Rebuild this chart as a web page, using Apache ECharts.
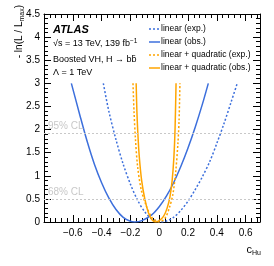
<!DOCTYPE html>
<html><head><meta charset="utf-8">
<script src="https://cdn.jsdelivr.net/npm/echarts@6/dist/echarts.min.js"></script>
<style>html,body{margin:0;padding:0;background:#fff}#c{width:274px;height:266px}</style>
</head><body><div id="c"></div>
<script>
// ---- data ----
const seriesNames = ['linear (exp.)','linear (obs.)','linear + quadratic (exp.)','linear + quadratic (obs.)'];
const linExpX = [-0.388,-0.35,-0.3,-0.25,-0.2,-0.15,-0.1,-0.05,0.01,0.05,0.1,0.15,0.2,0.25,0.3,0.35,0.4,0.45,0.5,0.542];
const linExpY = [3.0,2.4,1.78,1.25,0.82,0.47,0.22,0.065,0,0.02,0.1,0.25,0.45,0.7,0.98,1.3,1.7,2.13,2.6,3.0];
const linObsX = [-0.61,-0.55,-0.5,-0.45,-0.4,-0.35,-0.3,-0.25,-0.2,-0.17,-0.12,-0.05,0,0.05,0.1,0.15,0.2,0.25,0.3,0.341];
const linObsY = [3.0,2.3,1.74,1.25,0.85,0.52,0.27,0.10,0.015,0,0.03,0.16,0.33,0.56,0.85,1.2,1.6,2.05,2.55,3.0];
const quadExpX = [-0.182,-0.175,-0.165,-0.15,-0.125,-0.09,-0.05,0,0.04,0.07,0.095,0.115,0.13,0.138,0.144];
const quadExpY = [3.0,2.4,1.8,1.2,0.7,0.35,0.1,0,0.08,0.3,0.6,1.1,1.7,2.2,3.0];
const quadObsX = [-0.16,-0.155,-0.148,-0.138,-0.122,-0.1,-0.075,-0.05,-0.025,0,0.03,0.055,0.075,0.09,0.102,0.11,0.117];
const quadObsY = [3.0,2.4,1.9,1.4,0.9,0.5,0.2,0.05,0,0.03,0.12,0.3,0.55,0.9,1.4,2.0,3.0];
const clLevels = [0.5, 1.92];
const clLabels = ['68% CL', '95% CL'];
const xTicks = [-0.6,-0.4,-0.2,0,0.2,0.4,0.6];

const BLUE = '#3c6fdc', ORANGE = '#ffa500';
const FONT = 'Liberation Sans, Arial, sans-serif';
const pairs = (xs, ys) => xs.map((x, i) => [x, ys[i]]);
const fmt = v => String(Math.round(v * 10) / 10).replace('-', '\u2212');
const styles = [
  {color: BLUE, dotted: true}, {color: BLUE, dotted: false},
  {color: ORANGE, dotted: true}, {color: ORANGE, dotted: false}
];
const DOT = [2, 2];

const chart = echarts.init(document.getElementById('c'), null, {renderer: 'canvas'});
const axisCommon = {
  type: 'value',
  axisLine: {show: true, onZero: false, lineStyle: {color: '#000', width: 1}},
  axisTick: {show: true, inside: true, length: 7, lineStyle: {color: '#000'}},
  minorTick: {show: true, splitNumber: 5, length: 4, lineStyle: {color: '#000'}},
  splitLine: {show: false},
  minorSplitLine: {show: false}
};
const xBase = Object.assign({}, axisCommon, {min: -0.8, max: 0.7, interval: 0.2});
const yBase = Object.assign({}, axisCommon, {min: 0, max: 4.5, interval: 0.5});

function mkSeries(i, xs, ys, extra) {
  const s = styles[i];
  return Object.assign({
    name: seriesNames[i], type: 'line', data: pairs(xs, ys), symbol: 'none', smooth: 0.3,
    lineStyle: {color: s.color, width: 1.5, type: s.dotted ? DOT : 'solid'}, itemStyle: {color: s.color},
    xAxisIndex: 0, yAxisIndex: 0, z: 3
  }, extra || {});
}

// legend drawn as graphic lines + real text
const legendGraphics = [];
seriesNames.forEach((name, i) => {
  const yc = 29 + i * 13;
  legendGraphics.push({type: 'line', shape: {x1: 149, y1: yc, x2: 160, y2: yc},
    style: {stroke: styles[i].color, lineWidth: 1.5, lineDash: styles[i].dotted ? DOT : null}});
  legendGraphics.push({type: 'text', x: 161, y: yc, style: {text: name, font: '8.5px ' + FONT, fill: '#000', verticalAlign: 'middle', align: 'left'}});
});

const option = {
  animation: false,
  grid: {left: 44, right: 14, top: 14, bottom: 44, containLabel: false},
  xAxis: [
    Object.assign({}, xBase, {position: 'bottom',
      axisLabel: {show: true, customValues: xTicks, formatter: fmt, fontSize: 10, color: '#000', fontFamily: FONT, margin: 6}}),
    Object.assign({}, xBase, {position: 'top', axisLabel: {show: false}})
  ],
  yAxis: [
    Object.assign({}, yBase, {position: 'left',
      axisLabel: {show: true, formatter: v => String(v), fontSize: 10, color: '#000', fontFamily: FONT, margin: 4}}),
    Object.assign({}, yBase, {position: 'right', axisLabel: {show: false}})
  ],
  series: [
    mkSeries(0, linExpX, linExpY, {
      markLine: {
        silent: true, symbol: 'none',
        lineStyle: {color: '#c8c8c8', type: [2, 2], width: 1},
        label: {show: true, position: 'insideStartTop', formatter: p => p.name, color: '#c8c8c8', fontSize: 10, fontFamily: FONT, distance: [4, 2]},
        data: clLevels.map((v, i) => ({yAxis: v, name: clLabels[i]}))
      }
    }),
    mkSeries(1, linObsX, linObsY),
    mkSeries(2, quadExpX, quadExpY),
    mkSeries(3, quadObsX, quadObsY)
  ],
  graphic: legendGraphics.concat([
    {type: 'text', left: 53, top: 24, style: {text: 'ATLAS', font: 'italic bold 11px ' + FONT, fill: '#000'}},
    {type: 'text', left: 53, top: 38, style: {
      text: '{n|\u221As = 13 TeV, 139 fb}{s|\u22121}',
      rich: {n: {fontSize: 9, fontFamily: FONT, fill: '#000'}, s: {fontSize: 6.5, fontFamily: FONT, fill: '#000', verticalAlign: 'top', padding: [0,0,5,0]}}
    }},
    {type: 'text', left: 53, top: 55, style: {text: 'Boosted VH, H \u2192 bb\u0304', font: '9px ' + FONT, fill: '#000'}},
    {type: 'text', left: 53, top: 68, style: {text: '\u039B = 1 TeV', font: '9px ' + FONT, fill: '#000'}},
    {type: 'text', x: 19, y: 5, rotation: Math.PI / 2, style: {
      text: '{n|- ln(L / L}{s|max}{n|)}', align: 'right', verticalAlign: 'middle',
      rich: {n: {fontSize: 10, fontFamily: FONT, fill: '#000'}, s: {fontSize: 7, fontFamily: FONT, fill: '#000', padding: [6,0,0,0]}}
    }},
    {type: 'text', right: 13, top: 244, style: {
      text: '{n|c}{s|Hu}',
      rich: {n: {fontSize: 11, fontFamily: FONT, fill: '#000'}, s: {fontSize: 7, fontFamily: FONT, fill: '#000', padding: [7,0,0,0]}}
    }}
  ])
};
chart.setOption(option);
</script></body></html>
